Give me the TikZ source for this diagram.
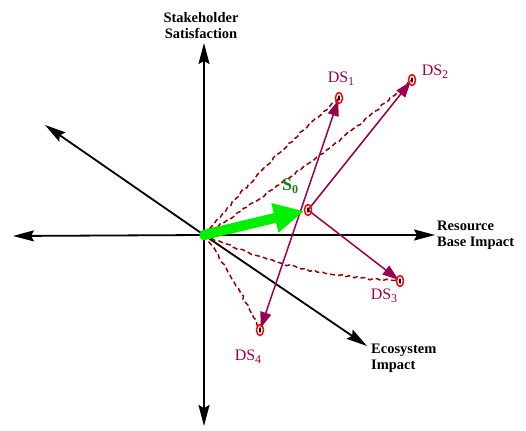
\documentclass[tikz,border=0pt]{standalone}
\usepackage{fontspec}
\setmainfont{Liberation Serif}
\usetikzlibrary{arrows.meta,decorations.pathmorphing}
\definecolor{plum}{HTML}{990050}
\definecolor{dred}{HTML}{990000}
\definecolor{sgreen}{HTML}{1A7A1A}
\definecolor{bgreen}{HTML}{00F000}
\newcommand\lsub[1]{\raisebox{-0.45ex}{\fontsize{12}{12}\selectfont #1}}
\begin{document}
\begin{tikzpicture}[x=1pt,y=-1pt,
  axis/.style={line width=1.8pt,-{Stealth[length=21pt,width=11pt,inset=3pt]}},
  move/.style={plum,line width=1.5pt,shorten >=2pt,-{Triangle[length=16pt,width=11pt]}},
  trail/.style={dred,line width=1.5pt,dash pattern=on 5pt off 3pt,decorate,
    decoration={random steps,segment length=4pt,amplitude=1pt}},
  axlab/.style={font=\bfseries\fontsize{14.5}{16}\selectfont,inner sep=0pt,align=left},
  dslab/.style={plum,font=\fontsize{16}{16}\selectfont,inner sep=0pt},
  ring/.style={red,line width=1.5pt}]
\useasboundingbox (0,0) rectangle (526,430);
% points
\coordinate (O) at (204,235);
\coordinate (S0) at (308,210);
\coordinate (DS1) at (339,98);
\coordinate (DS2) at (412,80);
\coordinate (DS3) at (400,281);
\coordinate (DS4) at (260,330);
% axis ends
\coordinate (top) at (204,43);
\coordinate (bot) at (204,426);
\coordinate (left) at (13,236);
\coordinate (right) at (435,235);
\coordinate (ul) at (45,125);
\coordinate (lr) at (367,346);
% axes
\draw[axis] (O) -- (top);
\draw[axis] (O) -- (bot);
\draw[axis] (O) -- (left);
\draw[axis] (O) -- (right);
\draw[axis] (O) -- (ul);
\draw[axis] (O) -- (lr);
% axis labels
\node[axlab,align=center,anchor=north] (lss) at (201,12) {Stakeholder\\Satisfaction};
\node[axlab,anchor=west] (lrb) at (437,235) {Resource\\Base Impact};
\node[axlab,anchor=north west] (lei) at (371,344) {Ecosystem\\Impact};
% dashed trails
\draw[trail] (O) to[bend left=4] (DS1);
\draw[trail] (O) to[bend right=4] (DS2);
\draw[trail] (O) to[bend right=10] (DS3);
\draw[trail] (O) to[bend left=4] (DS4);
% moves
\draw[move] (S0) -- (DS2);
\draw[move] (S0) -- (DS3);
\draw[plum,line width=1.5pt,shorten >=2pt,shorten <=2pt,{Triangle[length=16pt,width=11pt]}-{Triangle[length=16pt,width=11pt]}] (DS4) -- (DS1);
% green move
\draw[bgreen,line width=10pt,shorten >=4pt,-{Triangle[length=30pt,width=28pt]}] (O) -- (S0);
\fill[bgreen] (O) ellipse (4.5 and 5.5);
% rings
\foreach \p in {S0,DS1,DS2,DS3,DS4}{
  \draw[ring] (\p) ellipse (3.5 and 5.5);
  \fill (\p) ellipse (1 and 2.8);
}
% labels
\node[sgreen,font=\bfseries\fontsize{18}{18}\selectfont,inner sep=0pt] (lS0) at (290,186) {S\lsub{0}};
\node[dslab] (l1) at (341,79) {DS\lsub{1}};
\node[dslab] (l2) at (435,72) {DS\lsub{2}};
\node[dslab] (l3) at (384,296) {DS\lsub{3}};
\node[dslab] (l4) at (248,357) {DS\lsub{4}};
\end{tikzpicture}
\end{document}
